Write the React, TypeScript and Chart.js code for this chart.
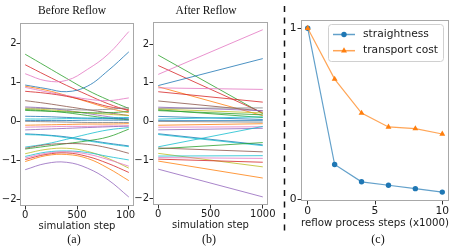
import React, { useEffect, useRef } from 'react';
import { Chart, registerables } from 'chart.js';

Chart.register(...registerables);

// ---------- data ----------
const simSteps = [0, 200, 400, 600, 800, 1000];

// panel (a): trajectories before reflow, sampled at simSteps
const beforeReflow: number[][] = [
  [1.72, 1.41, 1.10, 0.80, 0.55, 0.33],
  [1.45, 1.18, 0.92, 0.68, 0.45, 0.27],
  [1.22, 1.04, 1.05, 1.33, 1.72, 2.30],
  [0.93, 0.84, 0.76, 0.90, 1.30, 1.78],
  [0.90, 0.80, 0.66, 0.50, 0.34, 0.22],
  [0.87, 0.76, 0.66, 0.57, 0.53, 0.60],
  [0.77, 0.72, 0.64, 0.52, 0.38, 0.30],
  [0.53, 0.46, 0.38, 0.30, 0.22, 0.15],
  [0.37, 0.34, 0.28, 0.20, 0.12, 0.05],
  [0.34, 0.33, 0.31, 0.29, 0.31, 0.35],
  [0.32, 0.30, 0.26, 0.22, 0.18, 0.15],
  [0.30, 0.27, 0.22, 0.15, 0.08, 0.04],
  [0.28, 0.26, 0.24, 0.22, 0.22, 0.25],
  [0.13, 0.12, 0.10, 0.08, 0.07, 0.08],
  [0.06, 0.06, 0.07, 0.08, 0.09, 0.10],
  [0.02, 0.02, 0.02, 0.03, 0.03, 0.03],
  [0.00, -0.01, -0.02, -0.03, -0.03, -0.03],
  [-0.10, -0.09, -0.08, -0.07, -0.07, -0.06],
  [-0.15, -0.14, -0.13, -0.13, -0.12, -0.12],
  [-0.22, -0.20, -0.18, -0.16, -0.14, -0.12],
  [-0.32, -0.35, -0.40, -0.48, -0.56, -0.63],
  [-0.34, -0.36, -0.42, -0.50, -0.58, -0.65],
  [-0.66, -0.58, -0.46, -0.33, -0.22, -0.16],
  [-0.71, -0.64, -0.57, -0.50, -0.40, -0.20],
  [-0.69, -0.60, -0.57, -0.59, -0.68, -0.82],
  [-0.83, -0.72, -0.69, -0.77, -0.95, -1.20],
  [-0.90, -0.79, -0.76, -0.80, -0.90, -0.99],
  [-0.94, -0.82, -0.78, -0.84, -0.98, -1.15],
  [-0.98, -0.85, -0.81, -0.90, -1.08, -1.31],
  [-1.03, -0.88, -0.85, -0.95, -1.20, -1.52],
  [-1.24, -1.08, -1.05, -1.20, -1.50, -1.94],
];

// panel (b): straight trajectories after reflow (start at step 0, end at step 1000)
const afterSteps = [0, 1000];
const afterReflowStart = [
  1.72, 1.45, 1.22, 0.93, 0.90, 0.87, 0.77, 0.53, 0.37, 0.34, 0.32, 0.30, 0.28, 0.13, 0.06, 0.02,
  0.00, -0.10, -0.15, -0.22, -0.32, -0.34, -0.66, -0.71, -0.69, -0.83, -0.90, -0.94, -0.98, -1.03, -1.24,
];
const afterReflowEnd = [
  0.20, 0.22, 2.38, 1.63, 0.15, 0.83, 0.50, 0.27, 0.28, 0.35, 0.22, 0.10, 0.17, 0.05, 0.12, 0.02,
  -0.02, -0.06, -0.14, -0.18, -0.61, -0.63, -0.13, -0.55, -0.79, -1.18, -0.89, -0.96, -1.06, -1.47, -1.96,
];

const lineColors = [
  '#2ca02c', '#d62728', '#e377c2', '#1f77b4', '#ff7f0e', '#e377c2', '#d62728', '#8c564b', '#9467bd', '#7f7f7f',
  '#bcbd22', '#2ca02c', '#2ca02c', '#1f77b4', '#17becf', '#1f77b4', '#7f7f7f', '#ff7f0e', '#e377c2', '#9467bd',
  '#1f77b4', '#17becf', '#17becf', '#2ca02c', '#8c564b', '#bcbd22', '#17becf', '#e377c2', '#d62728', '#ff7f0e',
  '#9467bd',
];

const simYTicks = [-2, -1, 0, 1, 2];
const simXTicks = [0, 500, 1000];

// panel (c)
const reflowSteps = [0, 2, 4, 6, 8, 10];
const straightness = [1.0, 0.205, 0.104, 0.084, 0.064, 0.044];
const transportCost = [1.0, 0.703, 0.505, 0.424, 0.414, 0.383];
const reflowXTicks = [0, 5, 10];
const reflowYTicks = [0, 1];
const seriesNames = ['straightness', 'transport cost'];

const panelTitles = ['Before Reflow', 'After Reflow'];
const captions = ['(a)', '(b)', '(c)'];
const xTitles = ['simulation step', 'simulation step', 'reflow process steps (x1000)'];

// ---------- styling helpers ----------
const SANS = "'DejaVu Sans', sans-serif";
const SERIF = "'Liberation Serif', 'Times New Roman', serif";
const TEXT = '#1a1a1a';

function rgba(hex: string, a: number) {
  const n = parseInt(hex.slice(1), 16);
  return `rgba(${(n >> 16) & 255},${(n >> 8) & 255},${n & 255},${a})`;
}
function fmt(v: number) {
  return v < 0 ? '\u2212' + Math.abs(v) : String(v);
}

const framePlugin = {
  id: 'frame',
  afterDatasetsDraw(chart: any) {
    const { ctx, chartArea: a } = chart;
    ctx.save();
    ctx.strokeStyle = '#a8a8a8';
    ctx.lineWidth = 1;
    const l = Math.round(a.left) + 0.5;
    const t = Math.round(a.top) + 0.5;
    const r = Math.round(a.right) - 0.5;
    const b = Math.round(a.bottom) - 0.5;
    ctx.strokeRect(l, t, r - l, b - t);
    ctx.restore();
  },
};

function drawMarker(ctx: CanvasRenderingContext2D, style: string, x: number, y: number, r: number) {
  ctx.beginPath();
  if (style === 'triangle') {
    let rad = 0;
    const step = (2 * Math.PI) / 3;
    ctx.moveTo(x + Math.sin(rad) * r, y - Math.cos(rad) * r);
    rad += step;
    ctx.lineTo(x + Math.sin(rad) * r, y - Math.cos(rad) * r);
    rad += step;
    ctx.lineTo(x + Math.sin(rad) * r, y - Math.cos(rad) * r);
    ctx.closePath();
  } else {
    ctx.arc(x, y, r, 0, Math.PI * 2);
  }
  ctx.fill();
}

const insetLegendPlugin = {
  id: 'insetLegend',
  afterDraw(chart: any, _args: any, o: any) {
    const { ctx, chartArea: a } = chart;
    const x = Math.round(a.left + o.leftGap);
    const y = Math.round(a.top + o.topGap);
    ctx.save();
    ctx.beginPath();
    (ctx as any).roundRect(x + 0.5, y + 0.5, o.width, o.height, 3);
    ctx.fillStyle = 'rgba(255,255,255,0.85)';
    ctx.fill();
    ctx.strokeStyle = '#d0d0d0';
    ctx.lineWidth = 1;
    ctx.stroke();
    chart.data.datasets.forEach((ds: any, i: number) => {
      const cy = y + o.rowTop + i * o.rowGap;
      ctx.strokeStyle = ds.borderColor;
      ctx.lineWidth = 1.5;
      ctx.beginPath();
      ctx.moveTo(x + 5, cy);
      ctx.lineTo(x + 27, cy);
      ctx.stroke();
      ctx.fillStyle = ds.pointBackgroundColor;
      drawMarker(ctx, ds.pointStyle, x + 16, cy, ds.pointRadius);
      ctx.fillStyle = TEXT;
      ctx.font = `${o.fontSize}px ${SANS}`;
      ctx.textAlign = 'left';
      ctx.textBaseline = 'middle';
      ctx.fillText(ds.label, x + 35, cy);
    });
    ctx.restore();
  },
};

function xScale(min: number, max: number, ticks: number[], title: string, size: number, h: number, tickPad: number, titlePad: number) {
  return {
    type: 'linear',
    min,
    max,
    afterBuildTicks: (s: any) => {
      s.ticks = ticks.map((v) => ({ value: v }));
    },
    afterFit: (s: any) => {
      s.height = h;
      s.paddingLeft = 0;
      s.paddingRight = 0;
    },
    ticks: {
      font: { family: SANS, size, lineHeight: 0.75 },
      color: TEXT,
      padding: tickPad,
      maxRotation: 0,
      autoSkip: false,
      callback: (v: any) => fmt(Number(v)),
    },
    grid: { display: true, drawOnChartArea: false, drawTicks: true, tickLength: 3.5, tickColor: '#333', color: '#333', lineWidth: 1 },
    border: { display: false },
    title: { display: true, text: title, color: TEXT, font: { family: SANS, size, lineHeight: 1 }, padding: { top: 0, bottom: titlePad } },
  };
}

function yScale(min: number, max: number, ticks: number[], size: number, w: number, tickPad: number) {
  return {
    type: 'linear',
    min,
    max,
    afterBuildTicks: (s: any) => {
      s.ticks = ticks.map((v) => ({ value: v }));
    },
    afterFit: (s: any) => {
      s.width = w;
      s.paddingTop = 0;
      s.paddingBottom = 0;
    },
    ticks: {
      font: { family: SANS, size },
      color: TEXT,
      padding: tickPad,
      autoSkip: false,
      callback: (v: any) => fmt(Number(v)),
    },
    grid: { display: true, drawOnChartArea: false, drawTicks: true, tickLength: 3.5, tickColor: '#333', color: '#333', lineWidth: 1 },
    border: { display: false },
  };
}

function baseOptions(padding: any) {
  return {
    responsive: false,
    animation: false,
    devicePixelRatio: 1,
    events: [],
    layout: { padding, autoPadding: false },
    plugins: { legend: { display: false }, tooltip: { enabled: false }, title: { display: false } },
  };
}

export default function App() {
  const refA = useRef<HTMLCanvasElement>(null);
  const refB = useRef<HTMLCanvasElement>(null);
  const refC = useRef<HTMLCanvasElement>(null);

  useEffect(() => {
    const n = beforeReflow.length;
    const chartA = new Chart(refA.current as HTMLCanvasElement, {
      type: 'line',
      data: {
        datasets: beforeReflow.map((row, i) => ({
          data: row.map((y, j) => ({ x: simSteps[j], y })),
          borderColor: rgba(lineColors[i], 0.8),
          borderWidth: 1,
          pointRadius: 0,
          tension: 0.4,
          fill: false,
          order: n - i,
        })),
      },
      options: {
        ...baseOptions({ left: 0, top: 23, right: 2, bottom: 0 }),
        scales: {
          x: xScale(-50, 1050, simXTicks, xTitles[0], 10, 45, 2.5, 20),
          y: yScale(-2.17, 2.52, simYTicks, 10, 20, 0),
        },
      } as any,
      plugins: [framePlugin],
    });

    const chartB = new Chart(refB.current as HTMLCanvasElement, {
      type: 'line',
      data: {
        datasets: afterReflowStart.map((s, i) => ({
          data: [
            { x: afterSteps[0], y: s },
            { x: afterSteps[1], y: afterReflowEnd[i] },
          ],
          borderColor: rgba(lineColors[i], 0.8),
          borderWidth: 1,
          pointRadius: 0,
          tension: 0,
          fill: false,
          order: n - i,
        })),
      },
      options: {
        ...baseOptions({ left: 0, top: 22, right: 12, bottom: 0 }),
        scales: {
          x: xScale(-50, 1050, simXTicks, xTitles[1], 10, 46, 2.5, 21),
          y: yScale(-2.17, 2.58, simYTicks, 10, 19, 0.5),
        },
      } as any,
      plugins: [framePlugin],
    });

    const chartC = new Chart(refC.current as HTMLCanvasElement, {
      type: 'line',
      data: {
        datasets: [
          {
            label: seriesNames[0],
            data: straightness.map((y, j) => ({ x: reflowSteps[j], y })),
            borderColor: rgba('#1f77b4', 0.7),
            borderWidth: 1.2,
            pointStyle: 'circle',
            pointRadius: 2.7,
            pointBackgroundColor: '#1f77b4',
            pointBorderWidth: 0,
            tension: 0,
            order: 2,
          },
          {
            label: seriesNames[1],
            data: transportCost.map((y, j) => ({ x: reflowSteps[j], y })),
            borderColor: rgba('#ff7f0e', 0.7),
            borderWidth: 1.2,
            pointStyle: 'triangle',
            pointRadius: 3.4,
            pointBackgroundColor: '#ff7f0e',
            pointBorderWidth: 0,
            tension: 0,
            order: 1,
          },
        ],
      },
      options: {
        ...baseOptions({ left: 0, top: 20, right: 8, bottom: 0 }),
        plugins: {
          legend: { display: false },
          tooltip: { enabled: false },
          title: { display: false },
          insetLegend: { leftGap: 27, topGap: 4, width: 115, height: 37, rowTop: 10.5, rowGap: 16.2, fontSize: 10.7 },
        },
        scales: {
          x: xScale(-0.5, 10.5, reflowXTicks, xTitles[2], 10.7, 50, 3, 22),
          y: yScale(-0.008, 1.048, reflowYTicks, 10.7, 13, 1),
        },
      } as any,
      plugins: [framePlugin, insetLegendPlugin],
    });

    return () => {
      chartA.destroy();
      chartB.destroy();
      chartC.destroy();
    };
  }, []);

  const titleStyle = (cx: number): React.CSSProperties => ({
    position: 'absolute',
    left: cx - 60,
    width: 120,
    top: 4,
    textAlign: 'center',
    fontFamily: SERIF,
    fontSize: 11.5,
    lineHeight: '12px',
    color: '#111',
    whiteSpace: 'nowrap',
  });
  const captionStyle = (cx: number): React.CSSProperties => ({
    position: 'absolute',
    left: cx - 20,
    width: 40,
    top: 233,
    textAlign: 'center',
    fontFamily: SERIF,
    fontSize: 12,
    lineHeight: '12px',
    color: '#111',
  });

  return (
    <div style={{ position: 'fixed', left: 0, top: 0, width: 457, height: 251, background: '#fff', overflow: 'hidden' }}>
      <canvas ref={refA} width={136} height={251} style={{ position: 'absolute', left: 0, top: 0 }} />
      <canvas ref={refB} width={146} height={251} style={{ position: 'absolute', left: 134, top: 0 }} />
      <canvas ref={refC} width={169} height={251} style={{ position: 'absolute', left: 288, top: 0 }} />
      <svg width={457} height={251} style={{ position: 'absolute', left: 0, top: 0, pointerEvents: 'none' }}>
        <line x1={284.5} y1={6} x2={284.5} y2={232} stroke="#111" strokeWidth={1.5} strokeDasharray="6 5.5" />
      </svg>
      <div style={titleStyle(72)}>{panelTitles[0]}</div>
      <div style={titleStyle(206)}>{panelTitles[1]}</div>
      <div style={captionStyle(74)}>{captions[0]}</div>
      <div style={captionStyle(209)}>{captions[1]}</div>
      <div style={captionStyle(378)}>{captions[2]}</div>
    </div>
  );
}
